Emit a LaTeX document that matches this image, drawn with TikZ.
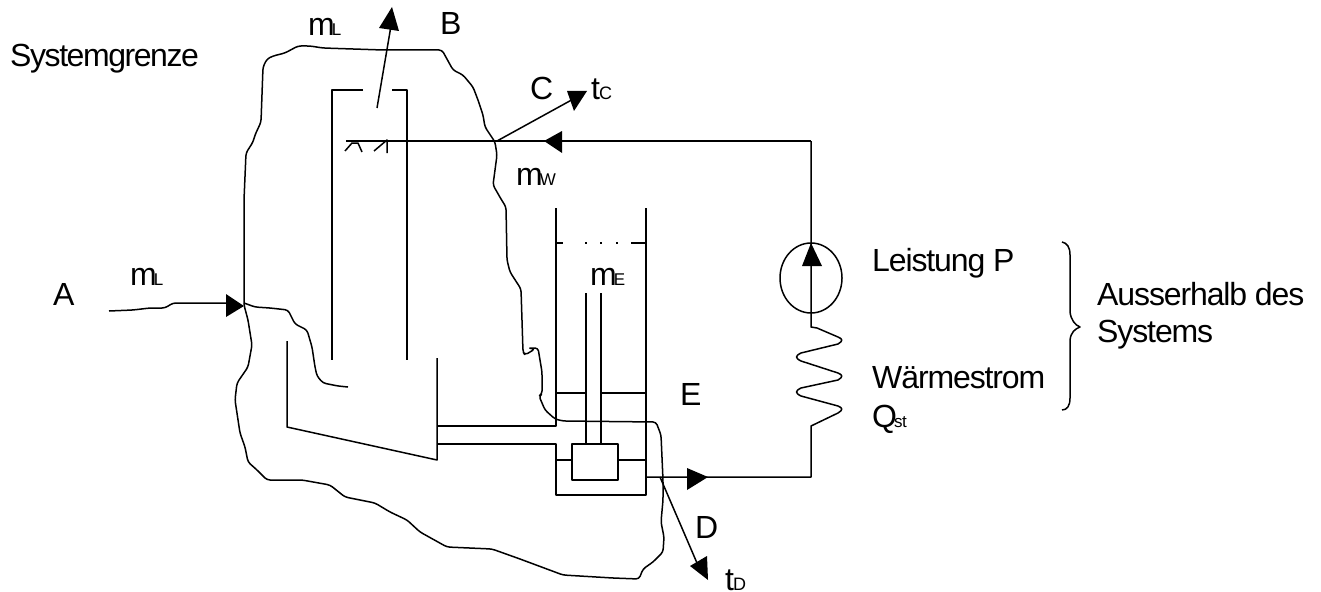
\documentclass[tikz,border=0pt]{standalone}
\usepackage{fontspec}
\setmainfont{Liberation Sans}[LetterSpace=-3.5]
\newcommand{\lab}[2]{{\fontsize{32}{32}\selectfont #1}{\fontsize{17}{17}\selectfont\kern-3pt #2}}
\newcommand{\labt}[2]{{\fontsize{32}{32}\selectfont #1}{\fontsize{18}{18}\selectfont\kern-1pt #2}}
\tikzset{
  ln/.style={draw=black,line width=1.5pt,line join=round,line cap=butt},
  fine/.style={draw=black,line width=1.5pt,line join=round,rounded corners=3pt},
  head/.style={fill=black,draw=none},
  txt/.style={inner sep=0pt,anchor=base west,font=\fontsize{32}{32}\selectfont},
}
\begin{document}
\begin{tikzpicture}[x=1pt,y=-1pt]
\useasboundingbox (0,0) rectangle (1321,591);
% system boundary
\draw[fine] (244,305) -- (244,200) -- (246,153) -- (253,142) -- (255,135) -- (261,122) -- (263,67) -- (267,59) -- (273,56) -- (285,53) -- (298,46) -- (310,46) -- (323,48) -- (383,50) -- (442,50) -- (453,70) -- (463,75) -- (473,87) -- (478,100) -- (483,115) -- (485,127) -- (495,142) -- (497,155) -- (493,185) -- (501,199) -- (506,207) -- (507,260) -- (510,272) -- (521,289) -- (523,352) -- (525,355) -- (535,349) -- (528,348) -- (538,348) -- (542,372) -- (542,394) -- (539,396) -- (545,410) -- (555,419) -- (563,421) -- (656,422) -- (661,435) -- (663,480) -- (663,500) -- (661,522) -- (664,537) -- (663,552) -- (653,562) -- (643,569) -- (639,579) -- (613,578) -- (563,575) -- (520,559) -- (492,549) -- (447,547) -- (420,532) -- (407,520) -- (390,512) -- (375,503) -- (345,497) -- (330,485) -- (302,480) -- (267,480) -- (257,470) -- (248,462) -- (245,447) -- (240,433) -- (235,400) -- (237,383) -- (248,367) -- (252,345) -- (248,320) -- cycle;
% air inlet
\draw[fine] (109,311) -- (133,310) -- (150,308) -- (165,308) -- (173,303) -- (226,303);
\fill[head] (226,294) -- (244,306) -- (226,317) -- cycle;
\draw[fine] (244,303) -- (255,307) -- (270,308) -- (288,310) -- (295,324) -- (307,330) -- (312,347) -- (315,367) -- (317,376) -- (323,383) -- (338,386) -- (348,387);
% tower
\draw[ln] (363,90) -- (332,90) -- (332,360);
\draw[ln] (392,90) -- (407,90) -- (407,360);
\draw[ln] (377,108) -- (392,20);
\fill[head] (379,28) -- (392,7) -- (399,31) -- cycle;
% spray
\draw[ln] (346,141) -- (811,141);
\draw[ln] (345,151) -- (352,143) -- (358,143) -- (362,152);
\draw[ln] (374,151) -- (387,140) -- (387,153);
\draw[ln] (497,141) -- (577,97);
\fill[head] (567,91) -- (587,91) -- (574,111) -- cycle;
\fill[head] (544,141) -- (562,131) -- (562,153) -- cycle;
% compressor
\draw[ln] (287,341) -- (287,427) -- (437,460) -- (437,358);
\draw[ln] (437,426) -- (556,426) -- (556,208);
\draw[ln] (437,444) -- (556,444) -- (556,495) -- (646,495) -- (646,208);
% vessel
\draw[ln] (556,243) -- (563,243);
\draw[ln] (585,243) -- (587,243);
\draw[ln] (600,243) -- (602,243);
\draw[ln] (616,243) -- (618,243);
\draw[ln] (631,243) -- (646,243);
\draw[ln] (586,293) -- (586,444);
\draw[ln] (601,293) -- (601,444);
\draw[ln] (556,393) -- (586,393);
\draw[ln] (601,393) -- (646,393);
\draw[ln] (572,444) rectangle (618,480);
\draw[ln] (556,460) -- (572,460);
\draw[ln] (618,460) -- (646,460);
% circuit
\draw[ln] (646,477) -- (811,477) -- (811,426) -- (838,413) .. controls (843,410) and (843,408) .. (838,406) -- (801,396) .. controls (795,393) and (795,391) .. (801,388) -- (838,380) .. controls (843,377) and (843,375) .. (838,373) -- (801,361) .. controls (795,358) and (795,356) .. (801,353) -- (838,344) .. controls (843,341) and (843,339) .. (838,337) -- (817,328) -- (811,327) -- (811,141);
\draw[ln] (811,278) ellipse [x radius=31,y radius=35];
\fill[head] (811,243) -- (822,266) -- (802,266) -- cycle;
\fill[head] (687,468) -- (708,477) -- (687,490) -- cycle;
% D
\draw[ln] (660,477) -- (700,570);
\fill[head] (690,566) -- (707,556) -- (708,580) -- cycle;
% brace
\draw[ln] (1062,242) .. controls (1067,243) and (1070,247) .. (1070,255) -- (1070,312) .. controls (1071,320) and (1075,325) .. (1080,327) .. controls (1075,329) and (1071,332) .. (1070,340) -- (1070,398) .. controls (1070,406) and (1067,410) .. (1062,410);
% texts
\node[txt] (sg) at (10,67) {\addfontfeature{LetterSpace=-4.5}Systemgrenze};
\node[txt] (a) at (53,305) {A};
\node[txt] (ml) at (130,285) {\lab{m}{L}};
\node[txt] (mlb) at (308,36) {\lab{m}{L}};
\node[txt] (b) at (440,35) {B};
\node[txt] (c) at (530,100) {C};
\node[txt] (tc) at (591,100) {\labt{t}{C}};
\node[txt] (mw) at (516,185) {\lab{m}{W}};
\node[txt] (me) at (590,285) {\lab{m}{E}};
\node[txt] (e) at (680,405) {E};
\node[txt] (d) at (695,538) {D};
\node[txt] (td) at (725,590) {\labt{t}{D}};
\node[txt] (lp) at (872,271) {Leistung P};
\node[txt] (ws) at (872,388) {Wärmestrom};
\node[txt] (qs) at (872,427) {\lab{Q}{st}};
\node[txt] (au) at (1097,305) {Ausserhalb des};
\node[txt] (sy) at (1097,342) {Systems};
\end{tikzpicture}
\end{document}
